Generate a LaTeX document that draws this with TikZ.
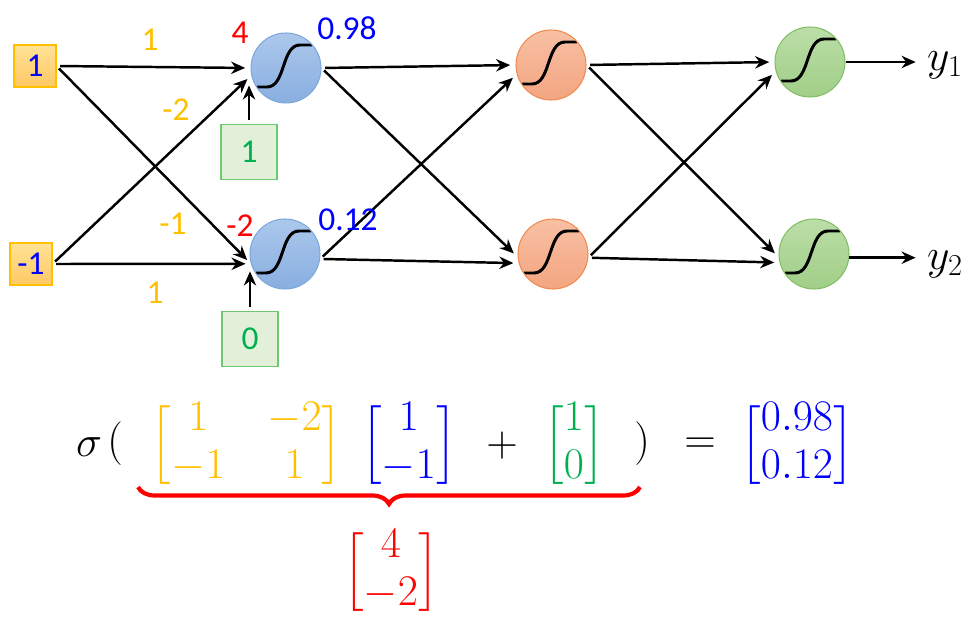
\documentclass[tikz,border=0pt]{standalone}
\usepackage{amsmath}
\usepackage{fontspec}
\setmainfont{Carlito}
\newfontfamily\tnr{Liberation Serif}
\usetikzlibrary{arrows.meta}
\usetikzlibrary{calc}
\usetikzlibrary{decorations.pathreplacing}

\delimiterfactor=700
\delimitershortfall=14pt

\definecolor{wgold}{RGB}{255,192,0}
\definecolor{xblue}{RGB}{0,0,255}
\definecolor{bgreen}{RGB}{0,176,80}
\definecolor{zred}{RGB}{255,0,0}
\definecolor{inlight}{RGB}{255,226,150}
\definecolor{indark}{RGB}{255,200,100}
\definecolor{biasfill}{RGB}{226,240,217}
\definecolor{biasline}{RGB}{110,200,110}
\definecolor{bluetop}{RGB}{172,200,236}
\definecolor{bluebot}{RGB}{136,174,224}
\definecolor{blueline}{RGB}{125,168,222}
\definecolor{orangetop}{RGB}{248,192,164}
\definecolor{orangebot}{RGB}{243,165,128}
\definecolor{orangeline}{RGB}{240,140,80}
\definecolor{greentop}{RGB}{188,222,168}
\definecolor{greenbot}{RGB}{160,206,135}
\definecolor{greenline}{RGB}{130,190,100}

\tikzset{
  lbl/.style={font=\fontsize{19}{22}\selectfont},
  inbox/.style={lbl, draw=wgold, line width=0.6pt, top color=inlight, bottom color=indark,
    minimum size=0.84cm, inner sep=0pt, text=xblue},
  biasbox/.style={lbl, draw=biasline, line width=0.6pt, fill=biasfill,
    minimum width=1.12cm, minimum height=1.1cm, inner sep=0pt, text=bgreen},
  neuron/.style={circle, minimum size=1.4cm, line width=0.6pt,
    path picture={\draw[black, line width=1.7pt]
      ([shift={(-0.58,-0.38)}]path picture bounding box.center) -- ++(0.2,0)
      to[out=0,in=180,looseness=0.9] ([shift={(0.28,0.46)}]path picture bounding box.center) -- ++(0.24,0);}},
  blueneuron/.style={neuron, draw=blueline, top color=bluetop, bottom color=bluebot},
  orangeneuron/.style={neuron, draw=orangeline, top color=orangetop, bottom color=orangebot},
  greenneuron/.style={neuron, draw=greenline, top color=greentop, bottom color=greenbot},
  wire/.style={line width=1.4pt, -{Stealth[length=8pt,width=7pt]}, shorten <=2pt, shorten >=3pt},
  outlbl/.style={font=\fontsize{26}{30}\selectfont\tnr},
  mathlbl/.style={font=\fontsize{25}{27}\selectfont},
  parenlbl/.style={font=\fontsize{24}{26}\selectfont},
}

\begin{document}
\begin{tikzpicture}
\useasboundingbox (0,0) rectangle (19.48,12.52);

% inputs, biases and neurons
\node[inbox] (x1) at (0.70,11.20) {1};
\node[inbox] (x2) at (0.62,7.24) {-1};
\node[blueneuron] (h11) at (5.72,11.16) {};
\node[blueneuron] (h12) at (5.70,7.44) {};
\node[biasbox] (b1) at (4.98,9.48) {1};
\node[biasbox] (b2) at (5.00,5.74) {0};
\node[orangeneuron] (h21) at (11.02,11.22) {};
\node[orangeneuron] (h22) at (11.06,7.44) {};
\node[greenneuron] (h31) at (16.20,11.28) {};
\node[greenneuron] (h32) at (16.28,7.44) {};
\node[outlbl] (y1) at (18.90,11.22) {$y_1$};
\node[outlbl] (y2) at (18.90,7.24) {$y_2$};

% connections
\draw[wire] (x1.east) -- (h11.180);
\draw[wire] (x1.east) -- (h12.196);
\draw[wire] (x2.east) -- (h11.192);
\draw[wire] (x2.east) -- (h12.196);
\draw[wire] (b1.north) -- (b1.north |- h11.200);
\draw[wire] (b2.north) -- (b2.north |- h12.200);
\draw[wire] (h11.east) -- (h21.180);
\draw[wire] (h11.east) -- (h22.185);
\draw[wire] (h12.-8) -- (h21.195);
\draw[wire] (h12.-8) -- (h22.195);
\draw[wire] (h21.east) -- (h31.180);
\draw[wire] (h21.east) -- (h32.185);
\draw[wire] (h22.-6) -- (h31.195);
\draw[wire] (h22.-6) -- (h32.194);
\draw[wire, shorten <=0pt] (h31.east) -- (h31.east -| y1.west);
\draw[wire, shorten <=0pt] (h32.-6) -- (h32.-6 -| y2.west);

% weights, sums and outputs
\node[lbl, text=wgold] (w11) at (3.00,11.72) {1};
\node[lbl, text=wgold] (w21) at (3.52,10.32) {-2};
\node[lbl, text=wgold] (w12) at (3.46,8.04) {-1};
\node[lbl, text=wgold] (w22) at (3.10,6.66) {1};
\node[lbl, text=zred] (z1) at (4.80,11.86) {4};
\node[lbl, text=zred] (z2) at (4.80,8.00) {-2};
\node[lbl, text=xblue] (a1) at (6.94,11.96) {0.98};
\node[lbl, text=xblue] (a2) at (6.96,8.12) {0.12};

% the formula
\node[mathlbl] (sg) at (1.78,3.58) {$\sigma$};
\node[parenlbl] (op) at (2.30,3.64) {$($};
\node[mathlbl, text=wgold] (mw) at (4.93,3.62) {$\arraycolsep=12pt\begin{bmatrix}1 & -2\\ -1 & 1\end{bmatrix}$};
\node[mathlbl, text=xblue] (mx) at (8.18,3.62) {$\arraycolsep=4pt\begin{bmatrix}1\\ -1\end{bmatrix}$};
\node[mathlbl] (pl) at (10.04,3.60) {$+$};
\node[mathlbl, text=bgreen] (mb) at (11.48,3.62) {$\arraycolsep=1pt\begin{bmatrix}1\\ 0\end{bmatrix}$};
\node[parenlbl] (cl) at (12.84,3.64) {$)$};
\node[mathlbl] (eq) at (14.00,3.60) {$=$};
\node[mathlbl, text=xblue] (ma) at (15.94,3.62) {$\arraycolsep=1pt\begin{bmatrix}0.98\\ 0.12\end{bmatrix}$};
\coordinate (bl) at (2.76,2.78);
\coordinate (br) at (12.80,2.78);
\draw[zred, line width=2.4pt, decorate, decoration={brace, mirror, amplitude=0.34cm}] (bl) -- (br);
\node[mathlbl, text=zred] (mz) at (7.82,1.08) {$\begin{bmatrix}4\\ -2\end{bmatrix}$};
\end{tikzpicture}
\end{document}
